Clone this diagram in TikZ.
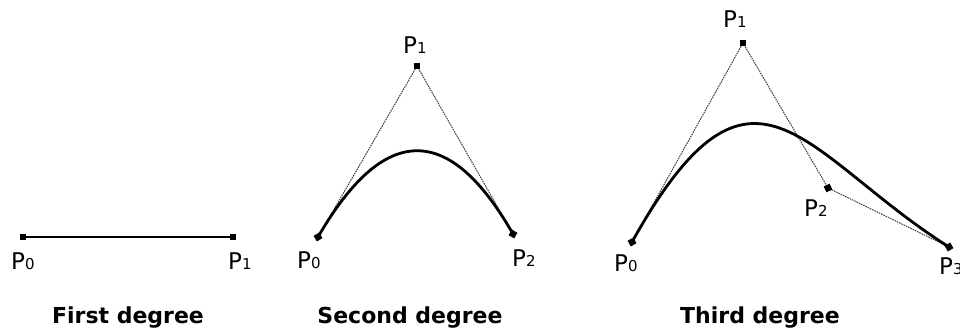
\documentclass[tikz,border=0pt]{standalone}
\usepackage{fontspec}
\setmainfont{DejaVu Sans}
\usetikzlibrary{calc}
\newcommand{\plab}[1]{{\fontsize{23}{23}\selectfont P}{\fontsize{15}{15}\selectfont #1}}
\tikzset{
  ptmark/.style={fill=black, inner sep=0pt, minimum size=6.5pt, rectangle},
  ctrlline/.style={draw=black!75, line width=1pt, dash pattern=on 1.6pt off 0.9pt},
  curveline/.style={line width=2.8pt, line cap=round},
  lab/.style={anchor=base west, inner sep=0pt},
  captext/.style={anchor=base, inner sep=0pt, font=\bfseries\fontsize{22}{22}\selectfont},
}
\begin{document}
\begin{tikzpicture}[x=1pt,y=-1pt]
\useasboundingbox[fill=white] (0,0) rectangle (960,331);

% ---------- First degree ----------
\coordinate (a0) at (23,237);
\coordinate (a1) at (233,237);
\draw[curveline] (a0) -- (a1);
\node[ptmark] (ma0) at (a0) {};
\node[ptmark] (ma1) at (a1) {};
\node[lab] (la0) at (11,269) {\plab{0}};
\node[lab] (la1) at (228,269) {\plab{1}};
\node[captext] (capa) at (128,323) {First degree};

% ---------- Second degree ----------
\coordinate (b0) at (318,237);
\coordinate (b1) at (417,66);
\coordinate (b2) at (513,234);
\draw[ctrlline] (b0) -- (b1) -- (b2);
\draw[curveline] (b0) .. controls ($(b0)!2/3!(b1)$) and ($(b2)!2/3!(b1)$) .. (b2);
\node[ptmark, rotate=30] (mb0) at (b0) {};
\node[ptmark] (mb1) at (b1) {};
\node[ptmark, rotate=-30] (mb2) at (b2) {};
\node[lab] (lb0) at (297,268) {\plab{0}};
\node[lab] (lb1) at (403,54) {\plab{1}};
\node[lab] (lb2) at (512,266) {\plab{2}};
\node[captext] (capb) at (410,323) {Second degree};

% ---------- Third degree ----------
\coordinate (c0) at (632,242);
\coordinate (c1) at (743,43);
\coordinate (c2) at (828,188);
\coordinate (c3) at (949,247);
\coordinate (k1) at (753,25);
\coordinate (k2) at (803,155);
\draw[ctrlline] (c0) -- (c1) -- (c2) -- (c3);
\draw[curveline] (c0) .. controls (k1) and (k2) .. (c3);
\node[ptmark, rotate=30] (mc0) at (c0) {};
\node[ptmark] (mc1) at (c1) {};
\node[ptmark, rotate=25] (mc2) at (c2) {};
\node[ptmark, rotate=30] (mc3) at (c3) {};
\node[lab] (lc0) at (614,271) {\plab{0}};
\node[lab] (lc1) at (723,28) {\plab{1}};
\node[lab] (lc2) at (804,216) {\plab{2}};
\node[lab] (lc3) at (939,274) {\plab{3}};
\node[captext] (capc) at (760,323) {Third degree};
\end{tikzpicture}
\end{document}
